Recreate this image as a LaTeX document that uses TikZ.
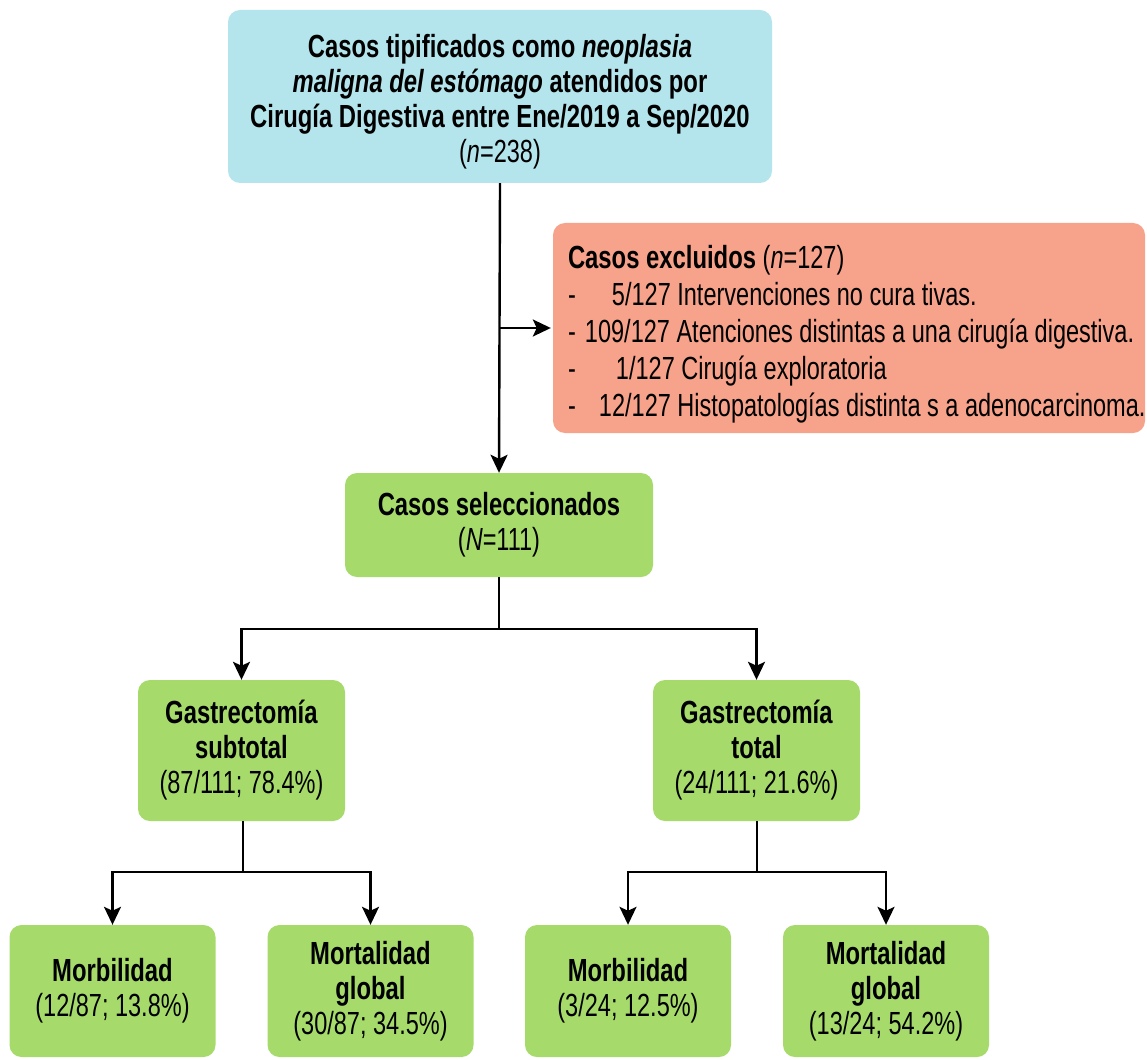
\documentclass[tikz,border=0pt]{standalone}
\usepackage{fontspec}
\setmainfont{Liberation Sans}[FakeStretch=0.735, BoldFeatures={FakeStretch=0.745}, BoldItalicFeatures={FakeStretch=0.745}]
\usetikzlibrary{arrows.meta,calc}
\definecolor{cyanbox}{RGB}{180,229,236}
\definecolor{salmonbox}{RGB}{247,162,138}
\definecolor{greenbox}{RGB}{166,219,108}
\begin{document}
\begin{tikzpicture}[x=1pt,y=-1pt,
  box/.style={rectangle, rounded corners=12pt, inner sep=0pt, align=center, font=\fontsize{32}{35}\selectfont},
  gbox/.style={box, fill=greenbox},
  conn/.style={line width=2.4pt, black},
  arr/.style={conn, -{Stealth[length=18pt,width=17pt,inset=4pt]}},
]
\useasboundingbox (0,0) rectangle (1147,1059);

\node[box, fill=cyanbox, minimum width=544pt, minimum height=173pt] (top) at (500,96.5) {};
\node[align=center, inner sep=0pt, font=\fontsize{32}{35}\selectfont] (toptext) at ($(top.center)+(0,5)$)
  {\textbf{Casos tipificados como \textit{neoplasia}}\\
   \textbf{\textit{maligna del estómago} atendidos por}\\
   \textbf{Cirugía Digestiva entre Ene/2019 a Sep/2020}\\
   (\textit{n}=238)};

\node[box, fill=salmonbox, minimum width=592pt, minimum height=210pt] (excl) at (849,328) {};
\node[anchor=west, align=left, inner sep=0pt, font=\fontsize{32}{37}\selectfont] (excltext) at ($(excl.west)+(15,6)$)
  {\textbf{Casos excluidos} (\textit{n}=127)\\
   \makebox[44pt][l]{-}5/127 Intervenciones no cura tivas.\\
   \makebox[17pt][l]{-}109/127 Atenciones distintas a una cirugía digestiva.\\
   \makebox[48pt][l]{-}1/127 Cirugía exploratoria\\
   \makebox[31pt][l]{-}12/127 Histopatologías distinta s a adenocarcinoma.};

\node[gbox, minimum width=308pt, minimum height=104pt] (sel) at (499,525)
  {\textbf{Casos seleccionados}\\(\textit{N}=111)};

\node[gbox, minimum width=207pt, minimum height=141pt] (sub) at (241.5,750.5)
  {\textbf{Gastrectomía}\\\textbf{subtotal}\\(87/111; 78.4\%)};
\node[gbox, minimum width=207pt, minimum height=141pt] (tot) at (756.5,750.5)
  {\textbf{Gastrectomía}\\\textbf{total}\\(24/111; 21.6\%)};

\node[gbox, minimum width=206pt, minimum height=132pt] (morb1) at (112.5,991)
  {\textbf{Morbilidad}\\(12/87; 13.8\%)};
\node[gbox, minimum width=206pt, minimum height=132pt] (mort1) at (370.5,991)
  {\textbf{Mortalidad}\\\textbf{global}\\(30/87; 34.5\%)};
\node[gbox, minimum width=206pt, minimum height=132pt] (morb2) at (628,991)
  {\textbf{Morbilidad}\\(3/24; 12.5\%)};
\node[gbox, minimum width=206pt, minimum height=132pt] (mort2) at (886,991)
  {\textbf{Mortalidad}\\\textbf{global}\\(13/24; 54.2\%)};

% connectors
\coordinate (j1) at (top.south |- excl.west);
\draw[arr] (top.south) -- (sel.north);
\draw[arr, shorten >=2pt] (j1) -- (excl.west);

\coordinate (b1) at (499,629);
\draw[conn] (sel.south) -- (b1);
\draw[arr] (b1) -| (sub.north);
\draw[arr] (b1) -| (tot.north);

\coordinate (b2) at (243,872);
\draw[conn] (sub.south -| b2) -- (b2);
\draw[arr] (b2) -| (morb1.north);
\draw[arr] (b2) -| (mort1.north);

\coordinate (b3) at (757,872);
\draw[conn] (tot.south -| b3) -- (b3);
\draw[arr] (b3) -| (morb2.north);
\draw[arr] (b3) -| (mort2.north);
\end{tikzpicture}
\end{document}
